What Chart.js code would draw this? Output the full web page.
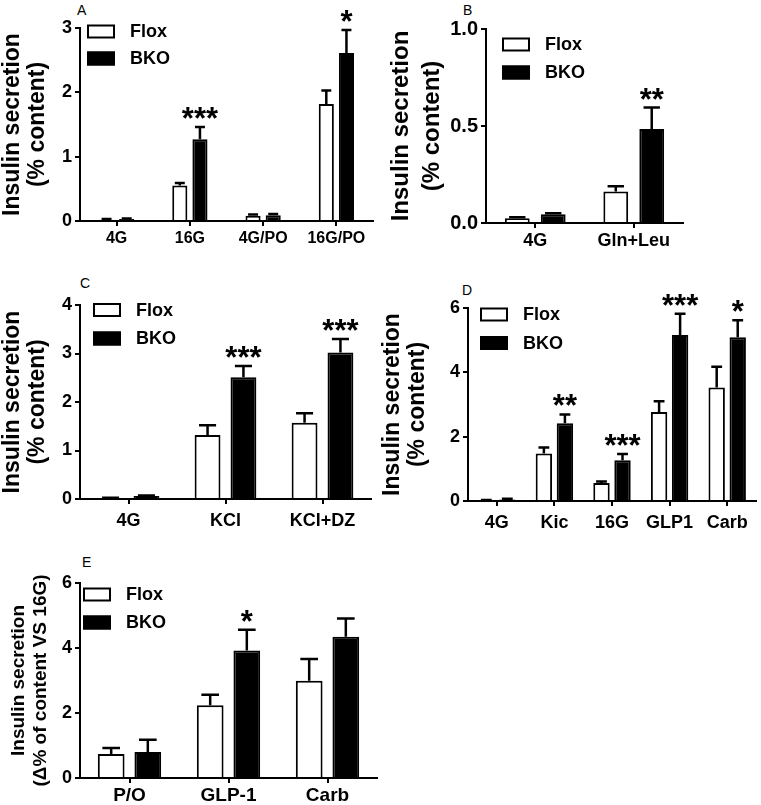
<!DOCTYPE html>
<html>
<head>
<meta charset="utf-8">
<script src="https://cdn.jsdelivr.net/npm/chart.js@4.4.1/dist/chart.umd.min.js"></script>
<style>
  body { margin: 0; background: #fff; }
  #fig { position: relative; width: 761px; height: 805px; overflow: hidden; background: #fff; }
  #fig canvas { position: absolute; }
  .tag { position: absolute; font: 14px "Liberation Sans", Arial, sans-serif; color: #000; line-height: 16px; }
</style>
</head>
<body>
<div id="fig">
  <div class="tag" style="left:77px;top:2px">A</div>
  <div class="tag" style="left:463px;top:2px">B</div>
  <div class="tag" style="left:80px;top:275px">C</div>
  <div class="tag" style="left:462px;top:282px">D</div>
  <div class="tag" style="left:82px;top:554px">E</div>
  <canvas id="panelA" width="380" height="265" style="left:0;top:0"></canvas>
  <canvas id="panelB" width="381" height="265" style="left:380px;top:0"></canvas>
  <canvas id="panelC" width="380" height="265" style="left:0;top:270px"></canvas>
  <canvas id="panelD" width="381" height="265" style="left:380px;top:270px"></canvas>
  <canvas id="panelE" width="380" height="265" style="left:0;top:540px"></canvas>
</div>
<script>
const groups = ['Flox', 'BKO'];

// A: glucose / palmitate-oleate
const catsA = ['4G', '16G', '4G/PO', '16G/PO'];
const floxA = [0.02, 0.55, 0.08, 1.82];
const floxErrA = [0.01, 0.04, 0.02, 0.21];
const bkoA = [0.03, 1.27, 0.09, 2.61];
const bkoErrA = [0.01, 0.19, 0.02, 0.36];
const starsA = ['', '***', '', '*'];

// B: amino acids
const catsB = ['4G', 'Gln+Leu'];
const floxB = [0.025, 0.163];
const floxErrB = [0.004, 0.026];
const bkoB = [0.045, 0.485];
const bkoErrB = [0.005, 0.11];
const starsB = ['', '**'];

// C: KCl / diazoxide
const catsC = ['4G', 'KCl', 'KCl+DZ'];
const floxC = [0.02, 1.32, 1.57];
const floxErrC = [0.005, 0.2, 0.2];
const bkoC = [0.06, 2.51, 3.02];
const bkoErrC = [0.01, 0.23, 0.28];
const starsC = ['', '***', '***'];

// D: secretagogues
const catsD = ['4G', 'Kic', '16G', 'GLP1', 'Carb'];
const floxD = [0.02, 1.48, 0.56, 2.77, 3.53];
const floxErrD = [0.01, 0.18, 0.05, 0.33, 0.64];
const bkoD = [0.05, 2.42, 1.27, 5.16, 5.09];
const bkoErrD = [0.02, 0.27, 0.19, 0.66, 0.53];
const starsD = ['', '**', '***', '***', '*'];

// E: delta vs 16G
const catsE = ['P/O', 'GLP-1', 'Carb'];
const floxE = [0.74, 2.24, 2.99];
const floxErrE = [0.18, 0.32, 0.67];
const bkoE = [0.8, 3.92, 4.35];
const bkoErrE = [0.38, 0.64, 0.56];
const starsE = ['', '*', ''];

const FONT = '"Liberation Sans", Arial, sans-serif';
Chart.defaults.font.family = FONT;
Chart.defaults.color = '#000';

// error bars (upward only) + significance stars over BKO bars
const errorBars = {
  id: 'errorBars',
  afterDatasetsDraw(chart) {
    const ctx = chart.ctx;
    const y = chart.scales.y;
    ctx.save();
    ctx.strokeStyle = '#000';
    ctx.fillStyle = '#000';
    ctx.lineWidth = 2.5;
    chart.data.datasets.forEach((ds, i) => {
      chart.getDatasetMeta(i).data.forEach((bar, j) => {
        const top = y.getPixelForValue(ds.data[j] + ds.errors[j]);
        const cap = bar.width * 0.33;
        ctx.beginPath();
        ctx.moveTo(bar.x, bar.y);
        ctx.lineTo(bar.x, top);
        ctx.moveTo(bar.x - cap, top);
        ctx.lineTo(bar.x + cap, top);
        ctx.stroke();
        if (ds.stars && ds.stars[j]) {
          ctx.font = 'bold 31px ' + FONT;
          ctx.textAlign = 'center';
          ctx.textBaseline = 'alphabetic';
          ctx.fillText(ds.stars[j], bar.x, top + 2);
        }
      });
    });
    ctx.restore();
  }
};

// boxed legend inside the plot, top-left
const boxLegend = {
  id: 'boxLegend',
  afterDraw(chart, args, opts) {
    const ctx = chart.ctx;
    const area = chart.chartArea;
    ctx.save();
    ctx.font = 'bold 18px ' + FONT;
    ctx.textBaseline = 'middle';
    ctx.textAlign = 'left';
    chart.data.datasets.forEach((ds, i) => {
      const x = area.left + opts.dx;
      const cy = area.top + opts.dy + i * opts.gap;
      ctx.fillStyle = ds.backgroundColor;
      ctx.fillRect(x, cy - 7, 28, 14);
      ctx.strokeStyle = '#000';
      ctx.lineWidth = 2;
      ctx.strokeRect(x + 1, cy - 6, 26, 12);
      ctx.fillStyle = '#000';
      ctx.fillText(ds.label, x + 43, cy + 1);
    });
    ctx.restore();
  }
};

function makePanel(id, p) {
  const canvas = document.getElementById(id);
  new Chart(canvas, {
    type: 'bar',
    data: {
      labels: p.cats,
      datasets: [
        { label: groups[0], data: p.flox, errors: p.floxErr, backgroundColor: '#fff',
          borderColor: '#000', borderWidth: 2, barPercentage: p.bp, categoryPercentage: p.cp },
        { label: groups[1], data: p.bko, errors: p.bkoErr, stars: p.stars, backgroundColor: '#000',
          borderColor: '#000', borderWidth: 2, barPercentage: p.bp, categoryPercentage: p.cp }
      ]
    },
    options: {
      responsive: false,
      animation: false,
      devicePixelRatio: 1,
      layout: { padding: { left: 0, top: p.top, right: p.right, bottom: 0 } },
      plugins: {
        legend: { display: false },
        tooltip: { enabled: false },
        boxLegend: p.legend
      },
      scales: {
        x: {
          border: { color: '#000', width: 2 },
          grid: { offset: false, drawOnChartArea: false, color: '#000', lineWidth: 2, tickLength: 5 },
          ticks: { color: '#000', padding: p.xPad, font: { weight: 'bold', size: p.xFont } },
          afterFit(s) { s.height = p.bottom; }
        },
        y: {
          min: 0,
          max: p.yMax,
          border: { color: '#000', width: 2 },
          grid: { drawOnChartArea: false, color: '#000', lineWidth: 2, tickLength: 5 },
          ticks: {
            color: '#000', stepSize: p.yStep, padding: 3,
            font: { weight: 'bold', size: p.yFont },
            callback: v => p.yFixed ? v.toFixed(1) : v
          },
          title: {
            display: true, text: p.yTitle, color: '#000',
            font: { weight: 'bold', size: p.titleFont, lineHeight: p.titleLH },
            padding: { top: p.titlePad, bottom: 0 }
          },
          afterFit(s) { s.width = p.axisX; }
        }
      }
    },
    plugins: [errorBars, boxLegend]
  });
}

const titlePct = ['Insulin secretion', '(% content)'];

makePanel('panelA', {
  cats: catsA, flox: floxA, floxErr: floxErrA, bko: bkoA, bkoErr: bkoErrA, stars: starsA,
  yMax: 3, yStep: 1, axisX: 80, top: 28, right: 7, bottom: 44, bp: 0.75, cp: 0.55,
  xFont: 16, yFont: 18, xPad: 3, yTitle: titlePct, titleFont: 23, titleLH: 1.1, titlePad: 0,
  legend: { dx: 7, dy: 3.5, gap: 27 }
});

makePanel('panelB', {
  cats: catsB, flox: floxB, floxErr: floxErrB, bko: bkoB, bkoErr: bkoErrB, stars: starsB,
  yMax: 1, yStep: 0.5, yFixed: true, axisX: 106, top: 29, right: 78, bottom: 42, bp: 0.69, cp: 0.73,
  xFont: 18, yFont: 20, xPad: 2, yTitle: titlePct, titleFont: 24, titleLH: 1.3, titlePad: 6,
  legend: { dx: 16, dy: 15.5, gap: 28 }
});

makePanel('panelC', {
  cats: catsC, flox: floxC, floxErr: floxErrC, bko: bkoC, bkoErr: bkoErrC, stars: starsC,
  yMax: 4, yStep: 1, axisX: 80, top: 35, right: 9, bottom: 36, bp: 0.72, cp: 0.74,
  xFont: 18, yFont: 18, xPad: 6, yTitle: titlePct, titleFont: 23, titleLH: 1.1, titlePad: 0,
  legend: { dx: 13, dy: 5, gap: 28.5 }
});

makePanel('panelD', {
  cats: catsD, flox: floxD, floxErr: floxErrD, bko: bkoD, bkoErr: bkoErrD, stars: starsD,
  yMax: 6, yStep: 2, axisX: 88, top: 38, right: 5, bottom: 34, bp: 0.78, cp: 0.73,
  xFont: 18, yFont: 18, xPad: 6, yTitle: titlePct, titleFont: 23, titleLH: 1.1, titlePad: 0,
  legend: { dx: 12, dy: 6.5, gap: 28.5 }
});

makePanel('panelE', {
  cats: catsE, flox: floxE, floxErr: floxErrE, bko: bkoE, bkoErr: bkoErrE, stars: starsE,
  yMax: 6, yStep: 2, axisX: 80, top: 43, right: 3, bottom: 27, bp: 0.73, cp: 0.74,
  xFont: 19, yFont: 18, xPad: 1, yTitle: ['Insulin secretion', '(\u0394% of content VS 16G)'],
  titleFont: 19, titleLH: 1.2, titlePad: 7,
  legend: { dx: 3, dy: 11.5, gap: 28 }
});
</script>
</body>
</html>
